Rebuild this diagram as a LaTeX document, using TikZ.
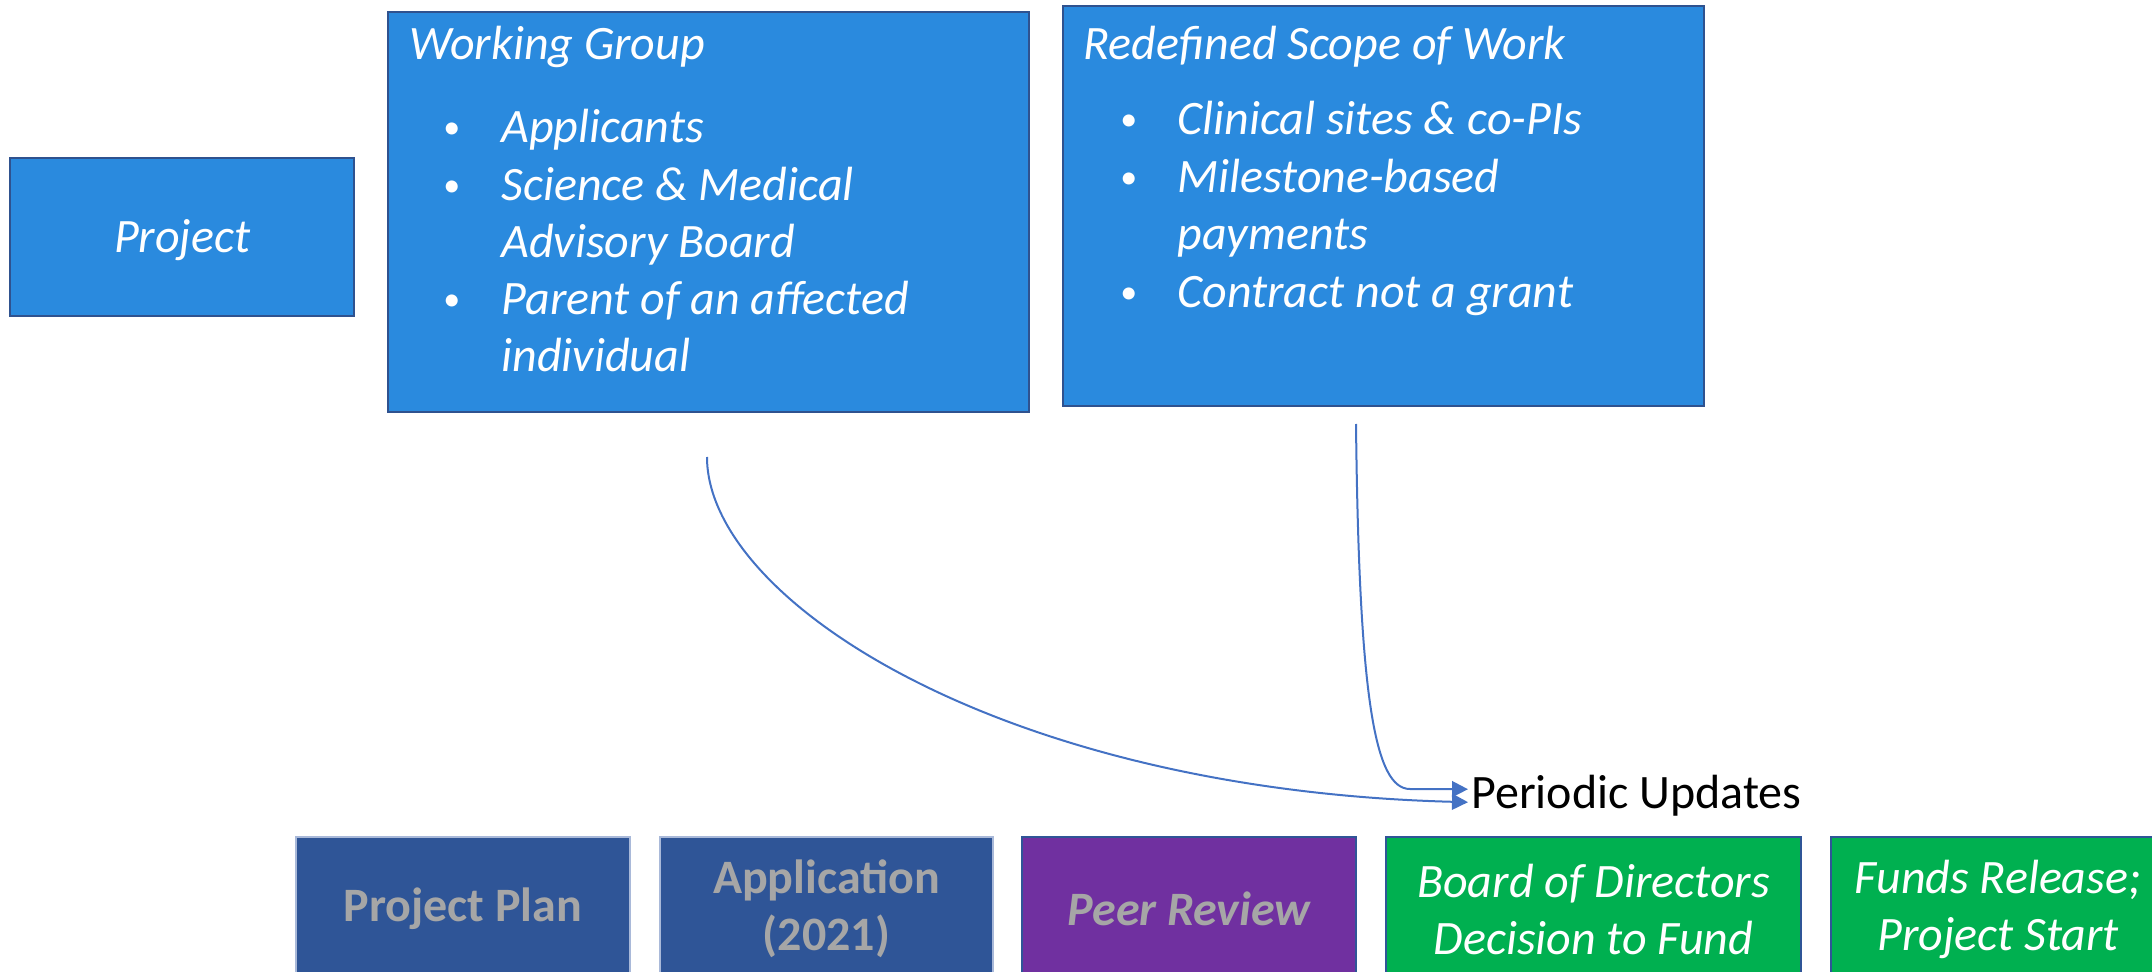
\documentclass[tikz,border=0pt]{standalone}
\usepackage{fontspec}
\setmainfont{Carlito}
\usetikzlibrary{calc,arrows.meta}
\definecolor{boxblue}{HTML}{2A8ADE}
\definecolor{edgeblue}{HTML}{2F528F}
\definecolor{darkblue}{HTML}{2F5597}
\definecolor{greytext}{HTML}{A6A6A6}
\definecolor{purp}{HTML}{7030A0}
\definecolor{grn}{HTML}{00B050}
\definecolor{arrowblue}{HTML}{4472C4}
\definecolor{lightedge}{HTML}{A9B9D9}
\begin{document}
\begin{tikzpicture}[x=0.5pt,y=-0.5pt,
  boxfont/.style={font=\fontsize{24}{28.5}\selectfont},
  topbox/.style={draw=edgeblue, line width=1.2pt, fill=boxblue, anchor=north west, inner sep=0pt},
  lowbox/.style={line width=1.2pt, anchor=north, inner sep=0pt, minimum height=72pt, align=center},
  wtxt/.style={font=\fontsize{24}{28.5}\selectfont\itshape, text=white, inner sep=0pt, anchor=base west},
  bul/.style={font=\fontsize{17}{20}\selectfont, text=white, inner sep=0pt, anchor=base west},
  conn/.style={draw=arrowblue, line width=1pt, -{Triangle[length=8pt,width=8pt]}}
]
\useasboundingbox (0,0) rectangle (2152,972);
\clip (0,0) rectangle (2152,972);

% top boxes
\node[topbox, minimum width=172pt, minimum height=79pt] (proj) at (9,157) {};
\node[wtxt, anchor=center] (projt) at ([yshift=-1.5pt]proj.center) {Project};

\node[topbox, minimum width=320.5pt, minimum height=200pt] (wg) at (387,11) {};
\node[wtxt] (wg0) at (409,60) {Working Group};
\node[bul] (wgb1) at (443,139) {•};
\node[wtxt] (wg1) at (501,143) {Applicants};
\node[bul] (wgb2) at (443,197) {•};
\node[wtxt] (wg2) at (501,201) {Science \& Medical};
\node[wtxt] (wg3) at (501,258) {Advisory Board};
\node[bul] (wgb4) at (443,311) {•};
\node[wtxt] (wg4) at (501,315) {Parent of an affected};
\node[wtxt] (wg5) at (501,372) {individual};

\node[topbox, minimum width=320.5pt, minimum height=200pt] (rs) at (1062,5) {};
\node[wtxt] (rs0) at (1083,60) {Redefined Scope of Work};
\node[bul] (rsb1) at (1120,131) {•};
\node[wtxt] (rs1) at (1177,135) {Clinical sites \& co-PIs};
\node[bul] (rsb2) at (1120,189) {•};
\node[wtxt] (rs2) at (1177,193) {Milestone-based};
\node[wtxt] (rs3) at (1177,250) {payments};
\node[bul] (rsb4) at (1120,304) {•};
\node[wtxt] (rs4) at (1177,308) {Contract not a grant};

% bottom row
\node[lowbox, draw=lightedge, fill=darkblue, text=greytext, font=\fontsize{24}{28.5}\selectfont\bfseries, minimum width=167pt] (pp) at (463,836) {Project Plan};
\node[lowbox, draw=lightedge, fill=darkblue, text=greytext, font=\fontsize{24}{28.5}\selectfont\bfseries, minimum width=166.5pt] (app) at (826.5,836) {Application\\(2021)};
\node[lowbox, draw=darkblue, fill=purp, text=greytext, font=\fontsize{24}{28.5}\selectfont\bfseries\itshape, minimum width=167pt] (pr) at (1189,836) {Peer Review};
\node[lowbox, draw=darkblue, fill=grn, text=white, font=\fontsize{24}{28.5}\selectfont\itshape, minimum width=207.5pt] (bd) at (1593.5,836) {Board of Directors\\Decision to Fund};
\node[lowbox, draw=darkblue, fill=grn, text=white, font=\fontsize{24}{28.5}\selectfont\itshape, minimum width=167pt] (fr) at (1998,836) {Funds Release;\\Project Start};

% periodic updates
\node[boxfont, inner sep=0pt, anchor=base west] (pu) at (1471,808) {Periodic Updates};

\coordinate (s1) at (707,457);
\coordinate (s2) at (1356,424);
\coordinate (t1) at ($(pu.west)+(-3,7)$);
\coordinate (t2) at ($(pu.west)+(-3,-6)$);
\coordinate (k2) at (1410,789);

\draw[conn] (s1) .. controls (707,600) and (1000,790) .. (t1);
\draw[conn] (s2) .. controls (1359,700) and (1375,789) .. (k2) -- (t2);
\end{tikzpicture}
\end{document}
